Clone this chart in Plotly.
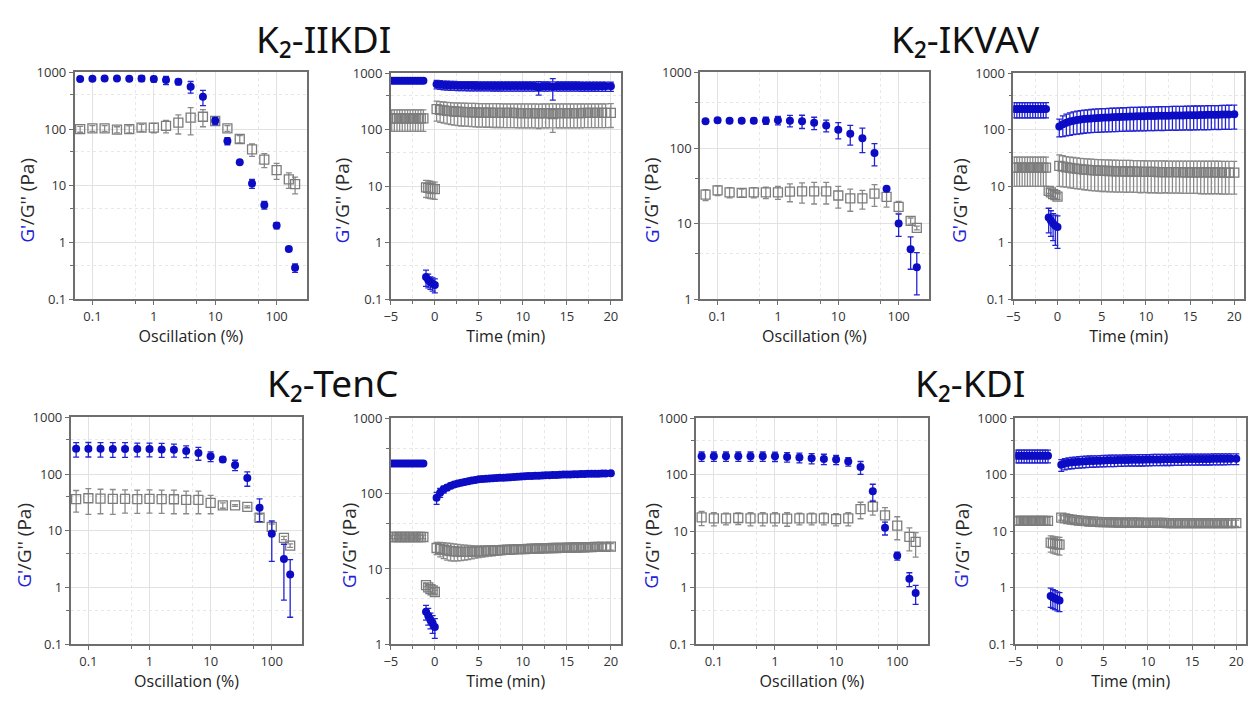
import plotly.graph_objects as go

# ---------------- data ----------------
STRAIN = [0.0631, 0.1, 0.158, 0.251, 0.398, 0.631, 1.0, 1.58, 2.51, 3.98, 6.31,
          10.0, 15.8, 25.1, 39.8, 63.1, 100.0, 158.0, 200.0]

T_PRE = [-4.9, -4.6, -4.3, -4.0, -3.7, -3.4, -3.1, -2.8, -2.5, -2.2, -1.9, -1.6, -1.3]
T_LOW = [-1.0, -0.75, -0.5, -0.25, 0.0]
T_REC = [0.2, 0.6, 1.0, 1.4, 1.8, 2.2, 2.6, 3.0, 3.4, 3.8, 4.2, 4.6, 5.0, 5.4, 5.8,
         6.2, 6.6, 7.0, 7.4, 7.8, 8.2, 8.6, 9.0, 9.4, 9.8, 10.2, 10.6, 11.0, 11.4,
         11.8, 12.2, 12.6, 13.0, 13.4, 13.8, 14.2, 14.6, 15.0, 15.4, 15.8, 16.2,
         16.6, 17.0, 17.4, 17.8, 18.2, 18.6, 19.0, 19.4, 20.0]

TITLES = ["K\u2082-IIKDI", "K\u2082-IKVAV", "K\u2082-TenC", "K\u2082-KDI"]
Y_LABEL_A = "G'"
Y_LABEL_B = "/G'' (Pa)"

# --- K2-IIKDI amplitude sweep
IIKDI_AMP_G1 = [760, 770, 775, 775, 770, 780, 760, 730, 680, 560, 370, 140, 62, 26, 11, 4.6, 2.0, 0.77, 0.36]
IIKDI_AMP_G1_ERR = [25, 25, 25, 25, 25, 90, 90, 120, 80, 130, 110, 20, 9, 0, 2, 0.7, 0.25, 0, 0.06]
IIKDI_AMP_G2 = [100, 103, 103, 98, 100, 106, 106, 114, 130, 159, 165, 139, 103, 67, 44, 29, 19, 13, 10.7]
IIKDI_AMP_G2_ERR = [12, 12, 12, 12, 14, 15, 20, 28, 48, 80, 55, 15, 12, 10, 11, 8, 6, 4, 3.5]

# --- K2-IKVAV amplitude sweep
IKVAV_AMP_G1 = [226, 232, 230, 230, 230, 230, 232, 230, 226, 215, 198, 174, 154, 135, 86, 29, 10.1, 4.6, 2.65]
IKVAV_AMP_G1_ERR = [10, 15, 15, 15, 18, 25, 30, 40, 45, 40, 35, 42, 45, 48, 28, 0, 3.3, 2.1, 1.5]
IKVAV_AMP_G2 = [24.2, 27.6, 26, 25.6, 26, 26, 26, 26.5, 26.7, 26.7, 26.7, 23.6, 21.6, 21.6, 24.9, 22.6, 16.7, 10.9, 8.8]
IKVAV_AMP_G2_ERR = [4, 4, 4, 3, 4, 4.5, 5, 7, 8, 8.5, 8.5, 7.5, 7, 6, 8, 6, 3, 1, 0.5]

# --- K2-TenC amplitude sweep
TENC_AMP_G1 = [279, 280, 278, 277, 277, 276, 276, 272, 268, 255, 235, 206, 181, 145, 85, 25.5, 8.9, 3.2, 1.7]
TENC_AMP_G1_ERR = [80, 80, 80, 80, 80, 75, 75, 75, 70, 60, 60, 40, 20, 30, 24, 11, 6, 2.6, 1.4]
TENC_AMP_G2 = [36.3, 37.5, 37, 36.5, 36.5, 36.3, 36.5, 36.3, 36, 35, 35, 31, 28, 28, 26.5, 17, 11.7, 7.5, 5.5]
TENC_AMP_G2_ERR = [15, 18, 17, 17, 16, 16, 16, 16, 16, 15, 15, 11, 3, 1, 1, 2.5, 1.5, 0.5, 0.4]

# --- K2-KDI amplitude sweep
KDI_AMP_G1 = [213, 213, 213, 213, 213, 213, 212, 207, 202, 196, 191, 186, 172, 137, 51, 11.6, 3.7, 1.45, 0.81]
KDI_AMP_G1_ERR = [40, 40, 40, 40, 40, 40, 40, 40, 40, 40, 40, 35, 30, 35, 17, 3, 0.6, 0.4, 0.3]
KDI_AMP_G2 = [17.6, 17, 17, 17.2, 17, 17, 17, 16.8, 17, 17, 17, 16.5, 17, 24.7, 27.3, 19.2, 12.6, 8, 6.5]
KDI_AMP_G2_ERR = [5, 4.5, 4, 4, 4.5, 4.5, 4.5, 4.5, 4, 4, 4, 4, 4.5, 8, 8, 7, 5.5, 3.5, 3]

# --- K2-IIKDI time sweep
IIKDI_PRE_G1 = [735, 735, 735, 735, 735, 735, 735, 735, 735, 735, 735, 735, 735]
IIKDI_PRE_G1_ERR = [45, 45, 45, 45, 45, 45, 45, 45, 45, 45, 45, 45, 45]
IIKDI_PRE_G2 = [160, 160, 160, 160, 160, 160, 160, 160, 160, 160, 160, 160, 160]
IIKDI_PRE_G2_ERR = [66, 66, 66, 66, 66, 66, 66, 66, 66, 66, 66, 66, 66]
IIKDI_LOW_G1 = [0.25, 0.22, 0.20, 0.19, 0.18]
IIKDI_LOW_G1_ERR = [0.08, 0.06, 0.05, 0.05, 0.05]
IIKDI_LOW_G2 = [9.6, 9.4, 9.2, 9.0, 8.9]
IIKDI_LOW_G2_ERR = [3.2, 3.2, 3.1, 3.0, 3.0]
IIKDI_REC_G1 = [640, 628, 620, 615, 610, 607, 605, 603, 602, 600, 600, 599, 598, 598, 597, 597, 596,
                596, 596, 595, 595, 595, 595, 594, 594, 594, 594, 594, 593, 560, 593, 593, 593, 570,
                593, 592, 592, 592, 592, 592, 592, 591, 591, 591, 591, 591, 590, 590, 590, 590]
IIKDI_REC_G1_ERR = [110, 110, 110, 110, 110, 110, 110, 110, 110, 110, 110, 110, 110, 110, 110, 110, 110,
                    110, 110, 110, 110, 110, 110, 110, 110, 110, 110, 110, 110, 150, 110, 110, 110, 235,
                    110, 110, 110, 110, 110, 110, 110, 110, 110, 110, 110, 110, 110, 110, 110, 110]
IIKDI_REC_G2 = [232, 226, 221, 217, 214, 211, 209, 207, 206, 205, 204, 203, 202, 202, 201, 201, 200,
                200, 200, 199, 199, 199, 199, 198, 198, 198, 198, 198, 198, 195, 198, 198, 198, 190,
                198, 198, 198, 198, 198, 198, 198, 198, 199, 199, 199, 199, 199, 199, 199, 200]
IIKDI_REC_G2_ERR = [90, 90, 90, 90, 90, 90, 90, 90, 90, 90, 90, 90, 90, 90, 90, 90, 90,
                    90, 90, 90, 90, 90, 90, 90, 90, 90, 90, 90, 90, 90, 90, 90, 90, 100,
                    90, 90, 90, 90, 90, 90, 90, 90, 90, 90, 90, 90, 90, 90, 90, 90]

# --- K2-IKVAV time sweep
IKVAV_PRE_G1 = [233, 233, 233, 233, 233, 233, 233, 233, 233, 233, 233, 233, 233]
IKVAV_PRE_G1_ERR = [70, 70, 70, 70, 70, 70, 70, 70, 70, 70, 70, 70, 70]
IKVAV_PRE_G2 = [21.5, 21.5, 21.5, 21.5, 21.5, 21.5, 21.5, 21.5, 21.5, 21.5, 21.5, 21.5, 21.5]
IKVAV_PRE_G2_ERR = [11.5, 11.5, 11.5, 11.5, 11.5, 11.5, 11.5, 11.5, 11.5, 11.5, 11.5, 11.5, 11.5]
IKVAV_LOW_G1 = [2.8, 2.5, 2.2, 2.0, 1.9]
IKVAV_LOW_G1_ERR = [1.3, 1.2, 1.1, 1.1, 1.1]
IKVAV_LOW_G2 = [8.3, 7.8, 7.3, 7.0, 6.6]
IKVAV_LOW_G2_ERR = [0.8, 0.8, 0.8, 0.8, 0.8]
IKVAV_REC_G1 = [115, 126, 134, 140, 145, 149, 152, 155, 157, 159, 161, 162, 164, 165, 166, 167, 168,
                169, 170, 171, 172, 172, 173, 174, 174, 175, 176, 176, 177, 177, 178, 178, 179, 179,
                180, 180, 181, 181, 182, 182, 183, 183, 184, 184, 185, 185, 186, 186, 187, 188]
IKVAV_REC_G1_ERR = [40, 50, 56, 60, 63, 65, 67, 68, 69, 70, 71, 72, 73, 73, 74, 74, 75,
                    75, 76, 76, 77, 77, 77, 78, 78, 78, 79, 79, 79, 80, 80, 80, 80, 81,
                    81, 81, 81, 82, 82, 82, 82, 83, 83, 83, 83, 84, 84, 84, 85, 85]
IKVAV_REC_G2 = [23.0, 22.3, 21.7, 21.2, 20.8, 20.4, 20.1, 19.8, 19.6, 19.4, 19.2, 19.0, 18.9, 18.8,
                18.7, 18.6, 18.5, 18.4, 18.4, 18.3, 18.3, 18.2, 18.2, 18.1, 18.1, 18.0, 18.0, 18.0,
                17.9, 17.9, 17.9, 17.8, 17.8, 17.8, 17.8, 17.7, 17.7, 17.7, 17.7, 17.7, 17.6, 17.6,
                17.6, 17.6, 17.6, 17.6, 17.5, 17.5, 17.5, 17.5]
IKVAV_REC_G2_ERR = [13, 12.5, 12, 11.8, 11.6, 11.4, 11.2, 11.1, 11, 11, 10.9, 10.8, 10.8, 10.7,
                    10.7, 10.6, 10.6, 10.5, 10.5, 10.5, 10.4, 10.4, 10.4, 10.4, 10.3, 10.3, 10.3, 10.3,
                    10.3, 10.3, 10.2, 10.2, 10.2, 10.2, 10.2, 10.2, 10.2, 10.2, 10.2, 10.2, 10.2, 10.2,
                    10.2, 10.2, 10.2, 10.2, 10.2, 10.2, 10.2, 10.2]

# --- K2-TenC time sweep
TENC_PRE_G1 = [251, 251, 251, 251, 251, 251, 251, 251, 251, 251, 251, 251, 251]
TENC_PRE_G1_ERR = [15, 15, 15, 15, 15, 15, 15, 15, 15, 15, 15, 15, 15]
TENC_PRE_G2 = [26.6, 26.6, 26.6, 26.6, 26.6, 26.6, 26.6, 26.6, 26.6, 26.6, 26.6, 26.6, 26.6]
TENC_PRE_G2_ERR = [1.5, 1.5, 1.5, 1.5, 1.5, 1.5, 1.5, 1.5, 1.5, 1.5, 1.5, 1.5, 1.5]
TENC_LOW_G1 = [2.7, 2.4, 2.1, 1.9, 1.7]
TENC_LOW_G1_ERR = [0.6, 0.6, 0.5, 0.5, 0.5]
TENC_LOW_G2 = [6.1, 5.7, 5.4, 5.2, 4.95]
TENC_LOW_G2_ERR = [0.3, 0.3, 0.3, 0.3, 0.3]
TENC_REC_G1 = [88, 103, 114, 121, 127, 132, 136, 140, 143, 146, 149, 152, 155, 157, 158, 159, 160,
               161, 162, 163, 164, 165, 166, 168, 169, 170, 171, 172, 173, 173, 174, 175, 176, 177,
               177, 178, 179, 180, 180, 181, 181, 182, 182, 183, 183, 184, 184, 185, 185, 186]
TENC_REC_G1_ERR = [16, 14, 12, 11, 10, 10, 9, 9, 9, 9, 8, 8, 8, 8, 8, 8, 8,
                   8, 8, 8, 8, 8, 8, 8, 8, 8, 8, 8, 8, 8, 8, 8, 8, 8,
                   8, 8, 8, 8, 8, 8, 8, 8, 8, 8, 8, 8, 8, 8, 8, 8]
TENC_REC_G2 = [19.0, 18.5, 18.0, 17.6, 17.3, 17.1, 17.0, 16.9, 16.9, 16.9, 17.0, 17.1, 17.2, 17.3,
               17.4, 17.5, 17.6, 17.7, 17.8, 17.9, 18.0, 18.1, 18.2, 18.3, 18.3, 18.4, 18.5, 18.6,
               18.6, 18.7, 18.8, 18.8, 18.9, 19.0, 19.0, 19.1, 19.1, 19.2, 19.2, 19.3, 19.3, 19.4,
               19.4, 19.5, 19.5, 19.6, 19.6, 19.7, 19.7, 19.8]
TENC_REC_G2_ERR = [3.5, 4.0, 4.3, 4.5, 4.5, 4.4, 4.2, 4.0, 3.8, 3.6, 3.4, 3.2, 3.0, 2.9,
                   2.8, 2.7, 2.6, 2.5, 2.4, 2.4, 2.3, 2.3, 2.2, 2.2, 2.2, 2.1, 2.1, 2.1,
                   2.1, 2.0, 2.0, 2.0, 2.0, 2.0, 2.0, 2.0, 2.0, 2.0, 2.0, 2.0, 2.0, 2.0,
                   2.0, 2.0, 2.0, 2.0, 2.0, 2.0, 2.0, 2.0]

# --- K2-KDI time sweep
KDI_PRE_G1 = [218, 218, 218, 218, 218, 218, 218, 218, 218, 218, 218, 218, 218]
KDI_PRE_G1_ERR = [55, 55, 55, 55, 55, 55, 55, 55, 55, 55, 55, 55, 55]
KDI_PRE_G2 = [15.3, 15.3, 15.3, 15.3, 15.3, 15.3, 15.3, 15.3, 15.3, 15.3, 15.3, 15.3, 15.3]
KDI_PRE_G2_ERR = [2.5, 2.5, 2.5, 2.5, 2.5, 2.5, 2.5, 2.5, 2.5, 2.5, 2.5, 2.5, 2.5]
KDI_LOW_G1 = [0.72, 0.68, 0.65, 0.62, 0.60]
KDI_LOW_G1_ERR = [0.27, 0.25, 0.24, 0.23, 0.22]
KDI_LOW_G2 = [6.3, 6.1, 6.0, 5.9, 5.8]
KDI_LOW_G2_ERR = [2.0, 2.0, 2.0, 2.0, 2.0]
KDI_REC_G1 = [150, 158, 163, 166, 168, 170, 172, 174, 175, 176, 177, 178, 179, 180, 181, 181, 182,
              182, 183, 183, 184, 184, 185, 185, 186, 186, 187, 187, 187, 188, 188, 188, 189, 189,
              189, 190, 190, 190, 190, 191, 191, 191, 191, 192, 192, 192, 192, 193, 193, 193]
KDI_REC_G1_ERR = [35, 36, 37, 38, 38, 39, 39, 40, 40, 40, 40, 40, 41, 41, 41, 41, 41,
                  41, 41, 41, 41, 42, 42, 42, 42, 42, 42, 42, 42, 42, 42, 42, 42, 42,
                  42, 42, 42, 42, 42, 42, 42, 42, 42, 42, 42, 42, 42, 42, 42, 42]
KDI_REC_G2 = [17.5, 17.0, 16.5, 16.1, 15.8, 15.5, 15.3, 15.1, 14.9, 14.8, 14.7, 14.6, 14.5, 14.5,
              14.4, 14.4, 14.3, 14.3, 14.3, 14.2, 14.2, 14.2, 14.2, 14.1, 14.1, 14.1, 14.1, 14.1,
              14.1, 14.1, 14.0, 14.0, 14.0, 14.0, 14.0, 14.0, 14.0, 14.0, 14.0, 14.0, 14.0, 14.0,
              14.0, 14.0, 14.0, 14.0, 14.0, 14.0, 14.0, 14.0]
KDI_REC_G2_ERR = [1.8, 1.8, 1.8, 1.8, 1.8, 1.8, 1.8, 1.8, 1.8, 1.8, 1.8, 1.8, 1.8, 1.8,
                  1.8, 1.8, 1.8, 1.8, 1.8, 1.8, 1.8, 1.8, 1.8, 1.8, 1.8, 1.8, 1.8, 1.8,
                  1.8, 1.8, 1.8, 1.8, 1.8, 1.8, 1.8, 1.8, 1.8, 1.8, 1.8, 1.8, 1.8, 1.8,
                  1.8, 1.8, 1.8, 1.8, 1.8, 1.8, 1.8, 1.8]

X_LOG_TICKS = [0.1, 1, 10, 100]
X_LOG_TEXT = ["0.1", "1", "10", "100"]
X_TIME_TICKS = [-5, 0, 5, 10, 15, 20]
Y_TICKS = [0.1, 1, 10, 100, 1000]
Y_TEXT = ["0.1", "1", "10", "100", "1000"]

# ---------------- styling ----------------
W, H = 1248, 705
FONT = "Open Sans"
TITLE_FONT = "Noto Sans"
BLUE = "#0c0cc4"
BLUE_ERR = "#2323d2"
LABEL_BLUE = "#2222d8"
GRAY = "#7c7c7c"
GRAY_ERR = "#8a8a8a"
FRAME = "#6e6e6e"
GRID = "#e2e2e2"
MINOR_GRID = "#e8e8e8"

# pixel boxes (left, right, top, bottom)
BOXES = [
    (68, 302, 65, 298), (386, 617, 66, 298), (697, 927, 65, 298), (1012, 1244, 66, 298),
    (64, 297, 419, 652), (386, 617, 420, 652), (693, 926, 420, 652), (1014, 1246, 420, 652),
]
YLABEL_X = [20, 337, 648, 958, 17, 344, 648, 960]
KINDS = ["amp", "time", "amp", "time", "amp", "time", "amp", "time"]
YRANGES = [[-1, 3], [-1, 3], [0, 3], [-1, 3], [-1, 3], [0, 3], [-1, 3], [-1, 3]]

fig = go.Figure()


def add_series(i, x, y, err, kind):
    ax = "" if i == 1 else str(i)
    if kind == "g2":
        marker = dict(symbol="square-open", size=9, color=GRAY, line=dict(width=1.3, color=GRAY))
        ecol = GRAY_ERR
    else:
        marker = dict(symbol="circle", size=8, color=BLUE, line=dict(width=0))
        ecol = BLUE_ERR
    fig.add_trace(go.Scatter(
        x=x, y=y, mode="markers", marker=marker,
        error_y=dict(type="data", array=err, visible=True, color=ecol, thickness=1.3, width=3),
        xaxis="x" + ax, yaxis="y" + ax, showlegend=False, hoverinfo="x+y"))


AMP = {
    1: (IIKDI_AMP_G1, IIKDI_AMP_G1_ERR, IIKDI_AMP_G2, IIKDI_AMP_G2_ERR),
    3: (IKVAV_AMP_G1, IKVAV_AMP_G1_ERR, IKVAV_AMP_G2, IKVAV_AMP_G2_ERR),
    5: (TENC_AMP_G1, TENC_AMP_G1_ERR, TENC_AMP_G2, TENC_AMP_G2_ERR),
    7: (KDI_AMP_G1, KDI_AMP_G1_ERR, KDI_AMP_G2, KDI_AMP_G2_ERR),
}
TIME = {
    2: [(IIKDI_PRE_G1, IIKDI_PRE_G1_ERR, IIKDI_PRE_G2, IIKDI_PRE_G2_ERR),
        (IIKDI_LOW_G1, IIKDI_LOW_G1_ERR, IIKDI_LOW_G2, IIKDI_LOW_G2_ERR),
        (IIKDI_REC_G1, IIKDI_REC_G1_ERR, IIKDI_REC_G2, IIKDI_REC_G2_ERR)],
    4: [(IKVAV_PRE_G1, IKVAV_PRE_G1_ERR, IKVAV_PRE_G2, IKVAV_PRE_G2_ERR),
        (IKVAV_LOW_G1, IKVAV_LOW_G1_ERR, IKVAV_LOW_G2, IKVAV_LOW_G2_ERR),
        (IKVAV_REC_G1, IKVAV_REC_G1_ERR, IKVAV_REC_G2, IKVAV_REC_G2_ERR)],
    6: [(TENC_PRE_G1, TENC_PRE_G1_ERR, TENC_PRE_G2, TENC_PRE_G2_ERR),
        (TENC_LOW_G1, TENC_LOW_G1_ERR, TENC_LOW_G2, TENC_LOW_G2_ERR),
        (TENC_REC_G1, TENC_REC_G1_ERR, TENC_REC_G2, TENC_REC_G2_ERR)],
    8: [(KDI_PRE_G1, KDI_PRE_G1_ERR, KDI_PRE_G2, KDI_PRE_G2_ERR),
        (KDI_LOW_G1, KDI_LOW_G1_ERR, KDI_LOW_G2, KDI_LOW_G2_ERR),
        (KDI_REC_G1, KDI_REC_G1_ERR, KDI_REC_G2, KDI_REC_G2_ERR)],
}
SEG_T = [T_PRE, T_LOW, T_REC]

for i in range(1, 9):
    if i in AMP:
        g1, e1, g2, e2 = AMP[i]
        add_series(i, STRAIN, g2, e2, "g2")
        add_series(i, STRAIN, g1, e1, "g1")
    else:
        for t, (g1, e1, g2, e2) in zip(SEG_T, TIME[i]):
            add_series(i, t, g2, e2, "g2")
        for t, (g1, e1, g2, e2) in zip(SEG_T, TIME[i]):
            add_series(i, t, g1, e1, "g1")

layout = dict(
    width=W, height=H, margin=dict(l=0, r=0, t=0, b=0),
    paper_bgcolor="white", plot_bgcolor="white", showlegend=False,
    font=dict(family=FONT, color="#222"),
)

annotations = []
for i, (l, r, t, b) in enumerate(BOXES, start=1):
    ax = "" if i == 1 else str(i)
    xdom = [l / W, r / W]
    ydom = [(H - b) / H, (H - t) / H]
    common = dict(showline=True, mirror=True, linecolor=FRAME, linewidth=1.5,
                  ticks="outside", ticklen=4, tickcolor=FRAME, tickwidth=1,
                  showgrid=True, gridcolor=GRID, gridwidth=1, zeroline=False,
                  tickfont=dict(family=FONT, size=13, color="#333"))
    if KINDS[i - 1] == "amp":
        xa = dict(common, type="log", range=[-1.29, 2.5], tickvals=X_LOG_TICKS, ticktext=X_LOG_TEXT,
                  title=dict(text="Oscillation (%)", font=dict(family=FONT, size=16, color="#222"), standoff=5),
                  minor=dict(tickvals=[0.5, 5, 50], ticks="outside", ticklen=3, tickcolor=FRAME,
                             showgrid=True, gridcolor=MINOR_GRID, griddash="dot"))
    else:
        xa = dict(common, type="linear", range=[-5, 21.1], tickvals=X_TIME_TICKS,
                  title=dict(text="Time (min)", font=dict(family=FONT, size=16, color="#222"), standoff=5),
                  minor=dict(tickvals=[-2.5, 2.5, 7.5, 12.5, 17.5], ticks="outside", ticklen=3,
                             tickcolor=FRAME, showgrid=True, gridcolor=MINOR_GRID, griddash="dot"))
    ya = dict(common, type="log", range=YRANGES[i - 1], tickvals=Y_TICKS, ticktext=Y_TEXT,
              minor=dict(tickvals=[0.4, 4, 40, 400], ticks="outside", ticklen=3, tickcolor=FRAME,
                         showgrid=True, gridcolor=MINOR_GRID, griddash="dot"))
    xa.update(domain=xdom, anchor="y" + ax)
    ya.update(domain=ydom, anchor="x" + ax)
    layout["xaxis" + ax] = xa
    layout["yaxis" + ax] = ya

    # rotated y label: blue G' (bottom) + dark "/G'' (Pa)" above it
    mid = (t + b) / 2.0
    split = mid + 40
    lx = YLABEL_X[i - 1] / W
    annotations.append(dict(text=Y_LABEL_A, textangle=-90, x=lx, y=(H - split) / H,
                            xref="paper", yref="paper", xanchor="center", yanchor="top",
                            showarrow=False, borderpad=0, borderwidth=0,
                            font=dict(family=FONT, size=19, color=LABEL_BLUE)))
    annotations.append(dict(text=Y_LABEL_B, textangle=-90, x=lx, y=(H - split) / H,
                            xref="paper", yref="paper", xanchor="center", yanchor="bottom",
                            showarrow=False, borderpad=0, borderwidth=0,
                            font=dict(family=FONT, size=19, color="#2a2a2a")))

TITLE_POS = [(318, 30), (964, 30), (327, 383), (968, 383)]
for txt, (cx, cy) in zip(TITLES, TITLE_POS):
    annotations.append(dict(text=txt, x=cx / W, y=(H - cy) / H, xref="paper", yref="paper",
                            xanchor="center", yanchor="middle", showarrow=False,
                            font=dict(family=TITLE_FONT, size=37, color="#111")))
layout["annotations"] = annotations

fig.update_layout(**layout)
fig.write_html("out.html", config={"displayModeBar": False})
